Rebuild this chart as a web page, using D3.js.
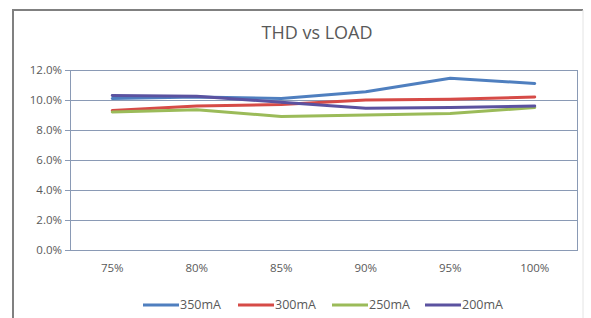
<!DOCTYPE html>
<html>
<head>
<meta charset="UTF-8">
<title>THD vs LOAD</title>
<script src="https://d3js.org/d3.v7.min.js"></script>
<style>
  body { margin: 0; background: #fff; }
  text { font-family: "Open Sans", "Liberation Sans", sans-serif; fill: #595959; }
</style>
</head>
<body>
<svg id="chart" width="591" height="318"></svg>
<script>
// categories (load) and THD series
var loads = ["75%", "80%", "85%", "90%", "95%", "100%"];
var seriesNames = ["350mA", "300mA", "250mA", "200mA"];
var thd350 = [10.1, 10.2, 10.1, 10.55, 11.45, 11.1];
var thd300 = [9.3, 9.6, 9.7, 10.0, 10.05, 10.2];
var thd250 = [9.2, 9.35, 8.9, 9.0, 9.1, 9.5];
var thd200 = [10.3, 10.25, 9.85, 9.45, 9.5, 9.6];
var yTicks = [0, 2, 4, 6, 8, 10, 12];

var colors = ["#4F7FBF", "#D64B47", "#9BBB59", "#5B52A0"];
var allSeries = [thd350, thd300, thd250, thd200];

var svg = d3.select("#chart");

// outer frame (bottom runs off the picture, right side is faint)
svg.append("path")
    .attr("d", "M13,318 L13,10 L583,10")
    .attr("fill", "none")
    .attr("stroke", "#808080")
    .attr("stroke-width", 2);
svg.append("line")
    .attr("x1", 583).attr("x2", 583)
    .attr("y1", 10).attr("y2", 318)
    .attr("stroke", "#e4e4e4")
    .attr("stroke-width", 1);

var plotLeft = 70, plotRight = 577, plotTop = 70, plotBottom = 250;

var x = d3.scaleBand().domain(loads).range([plotLeft, plotRight]);
var y = d3.scaleLinear().domain([0, 12]).range([plotBottom, plotTop]);

// title
svg.append("text")
    .attr("x", 317)
    .attr("y", 39)
    .attr("text-anchor", "middle")
    .style("font-size", "18px")
    .text("THD vs LOAD");

// gridlines
svg.append("g").selectAll("line")
    .data(yTicks)
    .enter().append("line")
    .attr("x1", plotLeft - 5)
    .attr("x2", plotRight + 1)
    .attr("y1", function(d) { return Math.round(y(d)) + 0.5; })
    .attr("y2", function(d) { return Math.round(y(d)) + 0.5; })
    .attr("stroke", "#8A9AB5")
    .attr("stroke-width", 1);

// plot border
svg.append("rect")
    .attr("x", plotLeft + 0.5)
    .attr("y", plotTop + 0.5)
    .attr("width", plotRight - plotLeft)
    .attr("height", plotBottom - plotTop)
    .attr("fill", "none")
    .attr("stroke", "#8A9AB5");

// y labels
svg.append("g").selectAll("text")
    .data(yTicks)
    .enter().append("text")
    .attr("x", 62)
    .attr("y", function(d) { return y(d) + 4; })
    .attr("text-anchor", "end")
    .style("font-size", "11.5px")
    .text(function(d) { return d.toFixed(1) + "%"; });

// x labels
svg.append("g").selectAll("text")
    .data(loads)
    .enter().append("text")
    .attr("x", function(d) { return x(d) + x.bandwidth() / 2; })
    .attr("y", 272)
    .attr("text-anchor", "middle")
    .style("font-size", "11.5px")
    .text(function(d) { return d; });

// lines
var line = d3.line()
    .x(function(d, i) { return x(loads[i]) + x.bandwidth() / 2; })
    .y(function(d) { return y(d); });

svg.append("g").selectAll("path")
    .data(allSeries)
    .enter().append("path")
    .attr("d", line)
    .attr("fill", "none")
    .attr("stroke", function(d, i) { return colors[i]; })
    .attr("stroke-width", 3)
    .attr("stroke-linejoin", "round")
    .attr("stroke-linecap", "round");

// legend
var legendX = [143, 238, 332, 425];
var lg = svg.append("g").selectAll("g")
    .data(seriesNames)
    .enter().append("g")
    .attr("transform", function(d, i) { return "translate(" + legendX[i] + ",305)"; });
lg.append("line")
    .attr("x1", 0).attr("x2", 36)
    .attr("stroke", function(d, i) { return colors[i]; })
    .attr("stroke-width", 3);
lg.append("text")
    .attr("x", 37)
    .attr("y", 4)
    .style("font-size", "12.5px")
    .text(function(d) { return d; });
</script>
</body>
</html>
